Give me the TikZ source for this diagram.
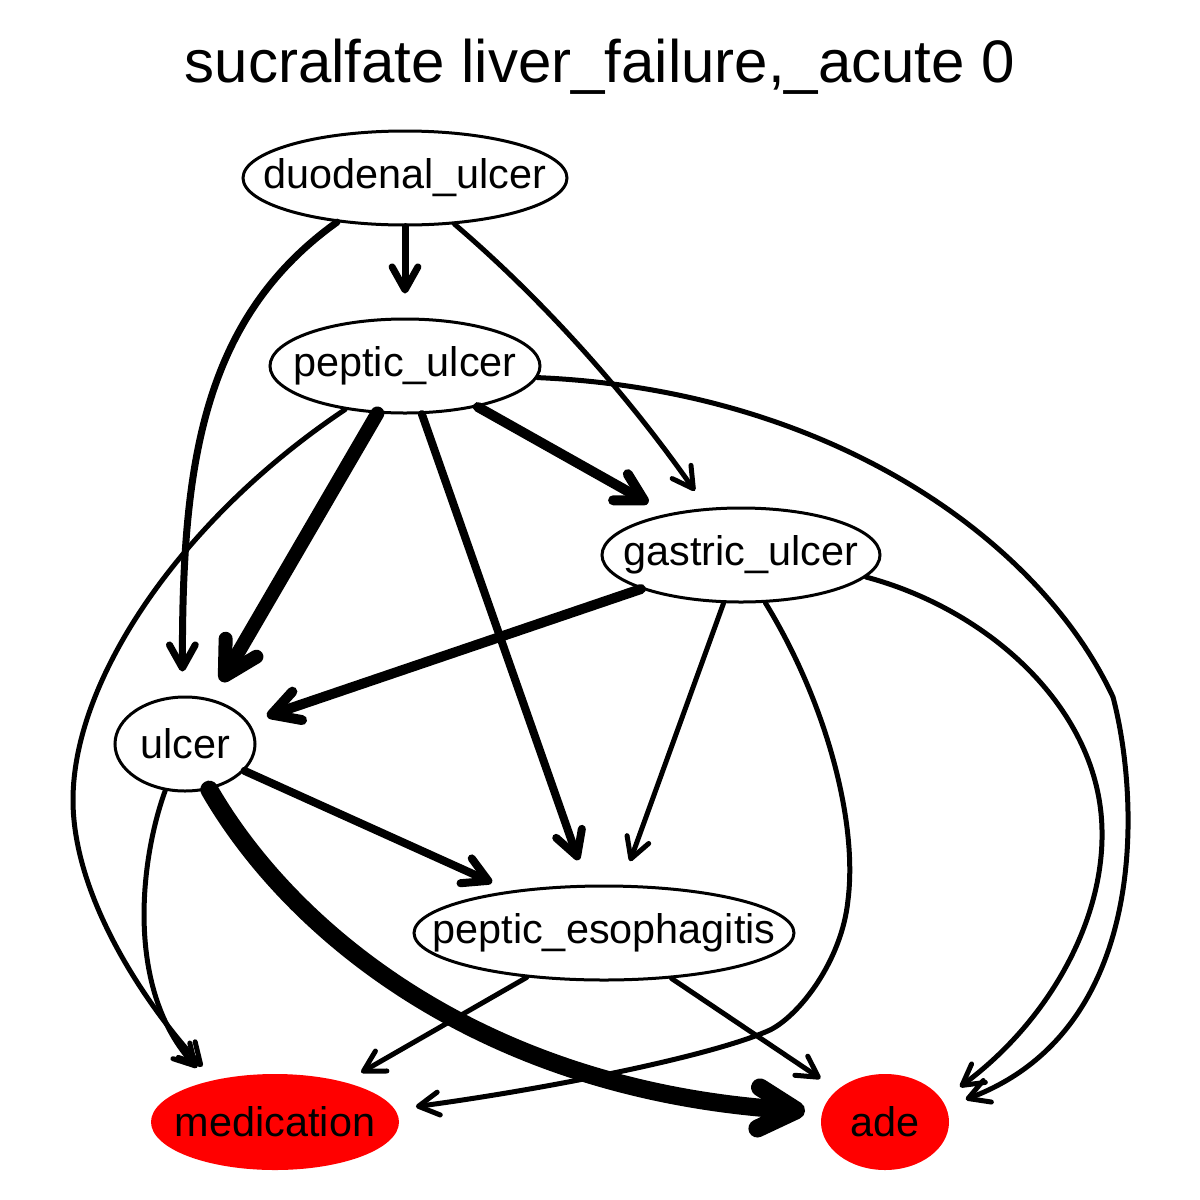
\documentclass[tikz,border=0pt]{standalone}
\usepackage{fontspec}
\setmainfont{Liberation Sans}
\usetikzlibrary{shapes.geometric,arrows.meta}
\newcommand\ztxt[1]{\makebox[0pt]{#1}}
\begin{document}
\begin{tikzpicture}[x=0.5pt,y=-0.5pt,
  vnode/.style={ellipse,draw,line width=1.5pt,inner sep=0pt,font=\fontsize{20.7}{24}\selectfont},
  rnode/.style={ellipse,fill=red,inner sep=0pt,font=\fontsize{20.7}{24}\selectfont},
  edge/.style={line width=2.5pt,line cap=round,-{Straight Barb[length=7pt 1.3,width=8pt 1.4,round]},shorten >=11pt},
]
\useasboundingbox[fill=white] (0,0) rectangle (1200,1200);
\node[font=\fontsize{30}{36}\selectfont,anchor=base] (title) at (600,82) {sucralfate liver\_failure,\_acute 0};
\node[vnode,minimum width=162pt,minimum height=47pt] (du) at (405,178) {\ztxt{duodenal\_ulcer}};
\node[vnode,minimum width=135pt,minimum height=47pt] (pu) at (405,366) {\ztxt{peptic\_ulcer}};
\node[vnode,minimum width=139pt,minimum height=47pt] (gu) at (741,555) {\ztxt{gastric\_ulcer}};
\node[vnode,minimum width=70pt,minimum height=47pt] (ul) at (185,744) {\ztxt{ulcer}};
\node[vnode,minimum width=190pt,minimum height=47pt] (pe) at (604,933) {\ztxt{peptic\_esophagitis}};
\node[rnode,minimum width=124pt,minimum height=48pt] (med) at (275,1122) {\ztxt{medication}};
\node[rnode,minimum width=64pt,minimum height=48pt] (ade) at (885,1122) {\ztxt{ade}};

\draw[edge,line width=3.5pt,shorten >=12pt] (du) -- (pu);
\draw[edge,line width=3.5pt,shorten >=12pt] (du.213) .. controls (200,320) and (182,470) .. (ul.93);
\draw[edge,shorten >=10.5pt] (du.317) .. controls (520,280) and (610,370) .. (gu.126);
\draw[edge,line width=7pt,shorten >=10pt] (pu) -- (ul);
\draw[edge,line width=5pt,shorten >=11pt] (pu) -- (gu);
\draw[edge,line width=4pt,shorten >=13pt] (pu) -- (pe);
\draw[edge,shorten >=9pt] (pu.216) .. controls (180,520) and (73,680) .. (73,800) .. controls (73,900) and (150,1010) .. (med.145);
\draw[edge,shorten >=10.5pt] (pu.355) .. controls (830,390) and (1040,540) .. (1113,697) .. controls (1140,800) and (1150,1030) .. (ade.14);
\draw[edge,line width=5pt,shorten >=9.5pt] (gu) -- (ul);
\draw[edge,shorten >=12.5pt] (gu) -- (pe);
\draw[edge,shorten >=10.5pt] (gu.297) .. controls (825,700) and (858,820) .. (848,900) .. controls (842,960) and (800,1015) .. (770,1030) .. controls (710,1057) and (540,1090) .. (med.6);
\draw[edge,shorten >=11pt] (gu.350) .. controls (990,610) and (1100,710) .. (1102,830) .. controls (1104,920) and (1050,1020) .. (ade.21);
\draw[edge,line width=4pt,shorten >=10pt] (ul) -- (pe);
\draw[edge,shorten >=9pt] (ul.247) .. controls (140,860) and (125,990) .. (med.148);
\draw[edge,line width=9pt,shorten >=8.5pt] (ul.298) .. controls (290,930) and (480,1090) .. (ade.171);
\draw[edge,shorten >=9.5pt] (pe) -- (med);
\draw[edge,shorten >=10pt] (pe) -- (ade);
\end{tikzpicture}
\end{document}
